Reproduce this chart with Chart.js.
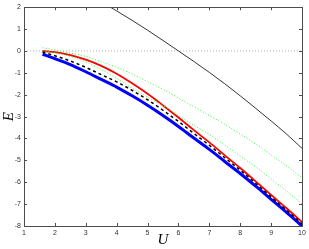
<!DOCTYPE html>
<html>
<head>
<meta charset="utf-8">
<script src="https://cdn.jsdelivr.net/npm/chart.js@4"></script>
<style>
html,body{margin:0;padding:0;background:#fff;}
#wrap{width:309px;height:249px;position:relative;}
</style>
</head>
<body>
<div id="wrap"><canvas id="c" width="309" height="249"></canvas></div>
<script>
// Data
const U = [1.6, 2, 2.5, 3, 3.5, 4, 4.5, 5, 5.5, 6, 6.5, 7, 7.5, 8, 8.5, 9, 9.5, 10];
const blueE   = [-0.15, -0.35, -0.62, -0.95, -1.30, -1.65, -2.05, -2.48, -2.95, -3.45, -3.98, -4.50, -5.05, -5.60, -6.18, -6.78, -7.38, -8.00];
const dashedE = [-0.05, -0.22, -0.46, -0.75, -1.08, -1.41, -1.80, -2.23, -2.71, -3.22, -3.77, -4.31, -4.88, -5.45, -6.05, -6.67, -7.28, -7.90];
const redE    = [0.00, -0.05, -0.19, -0.40, -0.68, -1.04, -1.48, -1.96, -2.49, -3.04, -3.62, -4.18, -4.77, -5.35, -5.96, -6.58, -7.19, -7.82];
const greenUpperE = [0.15, 0.05, -0.10, -0.25, -0.50, -0.75, -1.05, -1.40, -1.75, -2.15, -2.55, -2.95, -3.35, -3.80, -4.25, -4.75, -5.25, -5.80];
const greenLowerE = [0.00, -0.08, -0.25, -0.50, -0.85, -1.25, -1.70, -2.10, -2.50, -2.95, -3.40, -3.82, -4.30, -4.80, -5.30, -5.85, -6.40, -7.00];
const blackU = [3.5, 4, 4.5, 5, 5.5, 6, 6.5, 7, 7.5, 8, 8.5, 9, 9.5, 10];
const blackE = [2.25, 1.83, 1.40, 0.95, 0.48, 0.00, -0.48, -0.98, -1.50, -2.05, -2.62, -3.20, -3.80, -4.45];
const zeroU = [1, 10];
const zeroE = [0, 0];
const xTicks = [1, 2, 3, 4, 5, 6, 7, 8, 9, 10];
const yTicks = [-8, -7, -6, -5, -4, -3, -2, -1, 0, 1, 2];

const pts = (xs, ys) => xs.map((x, i) => ({x: x, y: ys[i]}));

const frame = {
  id: 'frame',
  afterDatasetsDraw(chart) {
    const {ctx, chartArea: {left, right, top, bottom}, scales: {x, y}} = chart;
    ctx.save();
    ctx.strokeStyle = '#4d4d4d';
    ctx.lineWidth = 1;
    ctx.strokeRect(Math.round(left) + 0.5, Math.round(top) + 0.5, Math.round(right - left), Math.round(bottom - top));
    const tl = 3;
    ctx.beginPath();
    xTicks.forEach(v => {
      const px = Math.round(x.getPixelForValue(v)) + 0.5;
      ctx.moveTo(px, bottom); ctx.lineTo(px, bottom - tl);
      ctx.moveTo(px, top); ctx.lineTo(px, top + tl);
    });
    yTicks.forEach(v => {
      const py = Math.round(y.getPixelForValue(v)) + 0.5;
      ctx.moveTo(left, py); ctx.lineTo(left + tl, py);
      ctx.moveTo(right, py); ctx.lineTo(right - tl, py);
    });
    ctx.stroke();
    ctx.restore();
  }
};

const common = {pointRadius: 0, cubicInterpolationMode: 'monotone'};

new Chart(document.getElementById('c'), {
  type: 'line',
  data: {
    datasets: [
      {data: pts(zeroU, zeroE), borderColor: '#b0b0b0', borderWidth: 1, borderDash: [1, 2], pointRadius: 0, order: 6},
      Object.assign({data: pts(U, blueE), borderColor: '#0000ff', borderWidth: 3, order: 5}, common),
      Object.assign({data: pts(U, redE), borderColor: '#ff0000', borderWidth: 1.8, order: 4}, common),
      Object.assign({data: pts(U, greenUpperE), borderColor: '#33ff33', borderWidth: 1, borderDash: [1, 2], order: 3}, common),
      Object.assign({data: pts(U, greenLowerE), borderColor: '#33ff33', borderWidth: 1, borderDash: [1, 2], order: 2}, common),
      Object.assign({data: pts(U, dashedE), borderColor: '#000000', borderWidth: 1.5, borderDash: [3, 3], order: 1}, common),
      Object.assign({data: pts(blackU, blackE), borderColor: '#000000', borderWidth: 0.8, order: 0}, common)
    ]
  },
  options: {
    responsive: false,
    animation: false,
    devicePixelRatio: 1,
    layout: {padding: {top: 6, right: 7, left: 0, bottom: 0}},
    plugins: {legend: {display: false}, tooltip: {enabled: false}},
    scales: {
      x: {
        type: 'linear', min: 1, max: 10,
        grid: {display: false, drawTicks: false},
        border: {display: false},
        afterBuildTicks: s => { s.ticks = xTicks.map(v => ({value: v})); },
        afterFit: s => { s.height = 23; },
        ticks: {padding: 3, font: {family: 'Liberation Sans', size: 7}, color: '#333', maxRotation: 0},
        title: {display: true, text: 'U', padding: 0, font: {family: 'Liberation Serif', style: 'italic', size: 15}, color: '#000'}
      },
      y: {
        type: 'linear', min: -8, max: 2,
        grid: {display: false, drawTicks: false},
        border: {display: false},
        afterBuildTicks: s => { s.ticks = yTicks.map(v => ({value: v})); },
        afterFit: s => { s.width = 24; },
        ticks: {padding: 3, font: {family: 'Liberation Sans', size: 7}, color: '#333'},
        title: {display: true, text: 'E', padding: 0, font: {family: 'Liberation Serif', style: 'italic', size: 15}, color: '#000'}
      }
    }
  },
  plugins: [frame]
});
</script>
</body>
</html>
